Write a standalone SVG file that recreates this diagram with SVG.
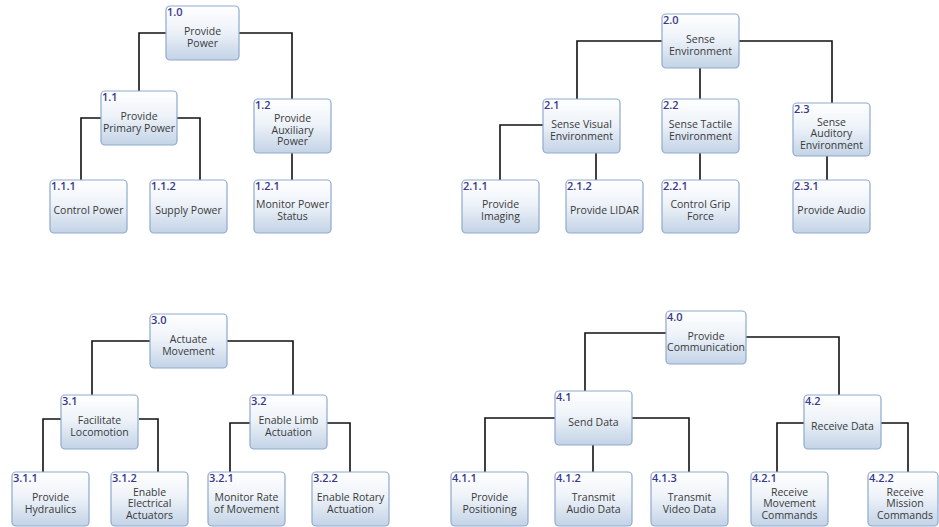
<svg xmlns="http://www.w3.org/2000/svg" width="939" height="527" viewBox="0 0 939 527">
<defs>
<linearGradient id="g" x1="0" y1="0" x2="0" y2="1">
<stop offset="0" stop-color="#ffffff"/>
<stop offset="0.45" stop-color="#eef3f9"/>
<stop offset="1" stop-color="#c3d3e6"/>
</linearGradient>
<style>
.box{fill:url(#g);stroke:#8eaace;stroke-width:1.2}
.num{font-family:"Open Sans","Noto Sans",sans-serif;font-size:11px;font-weight:600;fill:#38388c}
.lbl{font-family:"Open Sans","Noto Sans",sans-serif;font-size:10.5px;fill:#3a3a3a;text-anchor:middle}
.conn path{fill:none;stroke:#111;stroke-width:1.6}
</style>
</defs>
<rect width="939" height="527" fill="#ffffff"/>
<g class="conn" id="connectors">
<path d="M166,33 H139 V91"/>
<path d="M239,33 H292 V99"/>
<path d="M101,118 H81 V180"/>
<path d="M177,118 H200 V180"/>
<path d="M292,153 V180"/>
<path d="M662,41 H577 V99"/>
<path d="M739,41 H832 V103"/>
<path d="M700,68 V99"/>
<path d="M543,125 H500 V180"/>
<path d="M596,153 V180"/>
<path d="M700,153 V180"/>
<path d="M827,156 V180"/>
<path d="M150,341 H92 V395"/>
<path d="M227,341 H293 V395"/>
<path d="M61,419 H43 V472"/>
<path d="M139,419 H158 V472"/>
<path d="M250,423 H230 V472"/>
<path d="M327,423 H350 V472"/>
<path d="M666,333 H585 V391"/>
<path d="M746,337 H839 V395"/>
<path d="M555,418 H485 V472"/>
<path d="M632,418 H689 V472"/>
<path d="M593,445 V472"/>
<path d="M804,423 H777 V472"/>
<path d="M881,423 H908 V472"/>
</g>

<g id="n1_0"><rect class="box" x="166" y="6" width="73" height="54" rx="4"/><text class="num" x="167" y="16">1.0</text><text class="lbl" x="202.5"><tspan x="202.5" y="35">Provide</tspan><tspan x="202.5" y="46.5">Power</tspan></text></g>
<g id="n1_1"><rect class="box" x="101" y="91" width="76" height="54" rx="4"/><text class="num" x="102" y="101">1.1</text><text class="lbl"><tspan x="139" y="120">Provide</tspan><tspan x="139" y="131.5">Primary Power</tspan></text></g>
<g id="n1_2"><rect class="box" x="254" y="99" width="77" height="54" rx="4"/><text class="num" x="255" y="109">1.2</text><text class="lbl"><tspan x="292.5" y="122">Provide</tspan><tspan x="292.5" y="133.5">Auxiliary</tspan><tspan x="292.5" y="145">Power</tspan></text></g>
<g id="n1_1_1"><rect class="box" x="50" y="180" width="77" height="53" rx="4"/><text class="num" x="51" y="190">1.1.1</text><text class="lbl"><tspan x="88.5" y="214">Control Power</tspan></text></g>
<g id="n1_1_2"><rect class="box" x="150" y="180" width="77" height="53" rx="4"/><text class="num" x="151" y="190">1.1.2</text><text class="lbl"><tspan x="188.5" y="214">Supply Power</tspan></text></g>
<g id="n1_2_1"><rect class="box" x="254" y="180" width="77" height="53" rx="4"/><text class="num" x="255" y="190">1.2.1</text><text class="lbl"><tspan x="292.5" y="208">Monitor Power</tspan><tspan x="292.5" y="219.5">Status</tspan></text></g>

<g id="n2_0"><rect class="box" x="662" y="14" width="77" height="54" rx="4"/><text class="num" x="663" y="24">2.0</text><text class="lbl"><tspan x="700.5" y="43">Sense</tspan><tspan x="700.5" y="54.5">Environment</tspan></text></g>
<g id="n2_1"><rect class="box" x="543" y="99" width="77" height="54" rx="4"/><text class="num" x="544" y="109">2.1</text><text class="lbl"><tspan x="581.5" y="128">Sense Visual</tspan><tspan x="581.5" y="139.5">Environment</tspan></text></g>
<g id="n2_2"><rect class="box" x="662" y="99" width="77" height="54" rx="4"/><text class="num" x="663" y="109">2.2</text><text class="lbl"><tspan x="700.5" y="128">Sense Tactile</tspan><tspan x="700.5" y="139.5">Environment</tspan></text></g>
<g id="n2_3"><rect class="box" x="793" y="103" width="77" height="53" rx="4"/><text class="num" x="794" y="113">2.3</text><text class="lbl"><tspan x="831.5" y="125.5">Sense</tspan><tspan x="831.5" y="137">Auditory</tspan><tspan x="831.5" y="148.5">Environment</tspan></text></g>
<g id="n2_1_1"><rect class="box" x="462" y="180" width="77" height="53" rx="4"/><text class="num" x="463" y="190">2.1.1</text><text class="lbl"><tspan x="500.5" y="208">Provide</tspan><tspan x="500.5" y="219.5">Imaging</tspan></text></g>
<g id="n2_1_2"><rect class="box" x="566" y="180" width="77" height="53" rx="4"/><text class="num" x="567" y="190">2.1.2</text><text class="lbl"><tspan x="604.5" y="214">Provide LIDAR</tspan></text></g>
<g id="n2_2_1"><rect class="box" x="662" y="180" width="77" height="53" rx="4"/><text class="num" x="663" y="190">2.2.1</text><text class="lbl"><tspan x="700.5" y="208">Control Grip</tspan><tspan x="700.5" y="219.5">Force</tspan></text></g>
<g id="n2_3_1"><rect class="box" x="793" y="180" width="77" height="53" rx="4"/><text class="num" x="794" y="190">2.3.1</text><text class="lbl"><tspan x="831.5" y="214">Provide Audio</tspan></text></g>

<g id="n3_0"><rect class="box" x="150" y="314" width="77" height="54" rx="4"/><text class="num" x="151" y="324">3.0</text><text class="lbl"><tspan x="188.5" y="343">Actuate</tspan><tspan x="188.5" y="354.5">Movement</tspan></text></g>
<g id="n3_1"><rect class="box" x="61" y="395" width="77" height="54" rx="4"/><text class="num" x="62" y="405">3.1</text><text class="lbl"><tspan x="99.5" y="424">Facilitate</tspan><tspan x="99.5" y="435.5">Locomotion</tspan></text></g>
<g id="n3_2"><rect class="box" x="250" y="395" width="77" height="54" rx="4"/><text class="num" x="251" y="405">3.2</text><text class="lbl"><tspan x="288.5" y="424">Enable Limb</tspan><tspan x="288.5" y="435.5">Actuation</tspan></text></g>
<g id="n3_1_1"><rect class="box" x="12" y="472" width="77" height="54" rx="4"/><text class="num" x="13" y="482">3.1.1</text><text class="lbl"><tspan x="50.5" y="501">Provide</tspan><tspan x="50.5" y="512.5">Hydraulics</tspan></text></g>
<g id="n3_1_2"><rect class="box" x="111" y="472" width="77" height="54" rx="4"/><text class="num" x="112" y="482">3.1.2</text><text class="lbl"><tspan x="149.5" y="495.5">Enable</tspan><tspan x="149.5" y="507">Electrical</tspan><tspan x="149.5" y="518.5">Actuators</tspan></text></g>
<g id="n3_2_1"><rect class="box" x="208" y="472" width="77" height="54" rx="4"/><text class="num" x="209" y="482">3.2.1</text><text class="lbl"><tspan x="246.5" y="501">Monitor Rate</tspan><tspan x="246.5" y="512.5">of Movement</tspan></text></g>
<g id="n3_2_2"><rect class="box" x="312" y="472" width="77" height="54" rx="4"/><text class="num" x="313" y="482">3.2.2</text><text class="lbl"><tspan x="350.5" y="501">Enable Rotary</tspan><tspan x="350.5" y="512.5">Actuation</tspan></text></g>

<g id="n4_0"><rect class="box" x="666" y="311" width="80" height="53" rx="4"/><text class="num" x="667" y="321">4.0</text><text class="lbl"><tspan x="706" y="339.5">Provide</tspan><tspan x="706" y="351">Communication</tspan></text></g>
<g id="n4_1"><rect class="box" x="555" y="391" width="77" height="54" rx="4"/><text class="num" x="556" y="401">4.1</text><text class="lbl"><tspan x="593.5" y="426">Send Data</tspan></text></g>
<g id="n4_2"><rect class="box" x="804" y="395" width="77" height="54" rx="4"/><text class="num" x="805" y="405">4.2</text><text class="lbl"><tspan x="842.5" y="430">Receive Data</tspan></text></g>
<g id="n4_1_1"><rect class="box" x="451" y="472" width="77" height="54" rx="4"/><text class="num" x="452" y="482">4.1.1</text><text class="lbl"><tspan x="489.5" y="501">Provide</tspan><tspan x="489.5" y="512.5">Positioning</tspan></text></g>
<g id="n4_1_2"><rect class="box" x="555" y="472" width="77" height="54" rx="4"/><text class="num" x="556" y="482">4.1.2</text><text class="lbl"><tspan x="593.5" y="501">Transmit</tspan><tspan x="593.5" y="512.5">Audio Data</tspan></text></g>
<g id="n4_1_3"><rect class="box" x="651" y="472" width="77" height="54" rx="4"/><text class="num" x="652" y="482">4.1.3</text><text class="lbl"><tspan x="689.5" y="501">Transmit</tspan><tspan x="689.5" y="512.5">Video Data</tspan></text></g>
<g id="n4_2_1"><rect class="box" x="751" y="472" width="77" height="54" rx="4"/><text class="num" x="752" y="482">4.2.1</text><text class="lbl"><tspan x="789.5" y="495.5">Receive</tspan><tspan x="789.5" y="507">Movement</tspan><tspan x="789.5" y="518.5">Commands</tspan></text></g>
<g id="n4_2_2"><rect class="box" x="868" y="472" width="70" height="54" rx="4"/><text class="num" x="869" y="482">4.2.2</text><text class="lbl"><tspan x="905" y="495.5">Receive</tspan><tspan x="905" y="507">Mission</tspan><tspan x="905" y="518.5">Commands</tspan></text></g>
</svg>
